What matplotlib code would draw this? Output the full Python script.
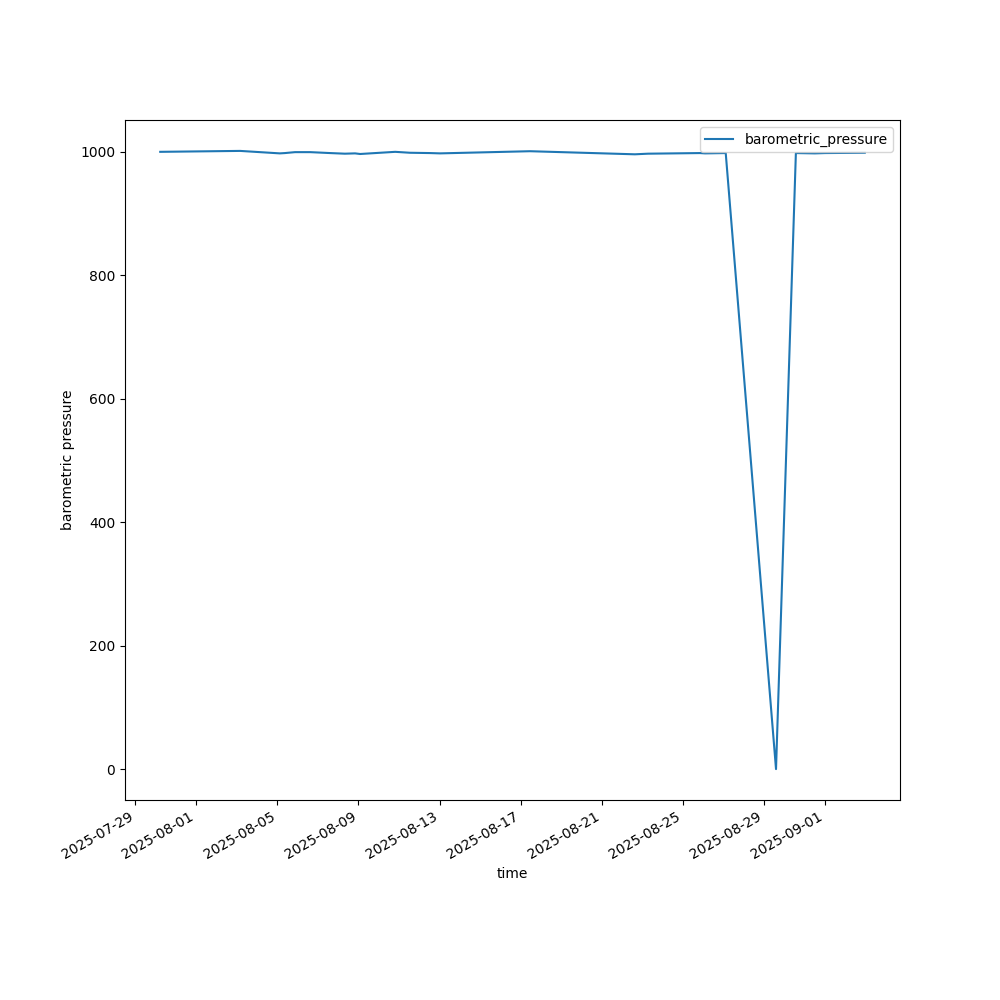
import pandas as pd
import matplotlib
matplotlib.use('Agg')
import matplotlib.pyplot as plt

times = ['2025-07-30 05:30', '2025-08-03 04:00', '2025-08-05 03:00', '2025-08-05 09:00',
         '2025-08-05 21:00', '2025-08-06 15:00', '2025-08-07 14:30', '2025-08-08 08:00',
         '2025-08-08 20:00', '2025-08-09 02:00', '2025-08-10 19:30', '2025-08-11 13:00',
         '2025-08-12 12:45', '2025-08-13 00:30', '2025-08-17 11:00', '2025-08-22 15:00',
         '2025-08-23 06:30', '2025-08-25 20:00', '2025-08-26 02:00', '2025-08-27 02:30',
         '2025-08-29 14:00', '2025-08-30 13:30', '2025-08-31 12:00', '2025-09-01 00:00',
         '2025-09-02 23:00']
pressure = [1000.0, 1001.5, 997.5, 998.0,
            999.5, 999.5, 998.0, 997.0,
            997.5, 996.5, 1000.0, 998.5,
            998.0, 997.5, 1001.0, 996.0,
            997.0, 998.0, 997.5, 998.0,
            0.0, 998.0, 997.5, 998.0,
            998.5]

df = pd.DataFrame({'time': pd.to_datetime(times), 'barometric_pressure': pressure})

fig, ax = plt.subplots(figsize=(10, 10), dpi=100)
ax.plot(df['time'], df['barometric_pressure'], label='barometric_pressure')
ax.set_xlabel('time')
ax.set_ylabel('barometric pressure')
ax.legend(loc='upper right')
fig.autofmt_xdate()
fig.savefig('out.png')
